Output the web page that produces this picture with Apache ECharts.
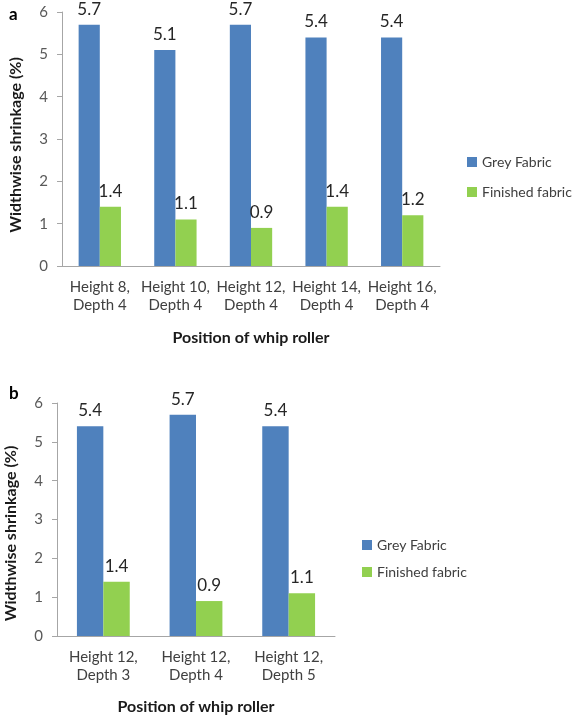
<!DOCTYPE html>
<html><head><meta charset="utf-8">
<script src="https://cdn.jsdelivr.net/npm/echarts@6/dist/echarts.min.js"></script>
<style>html,body{margin:0;padding:0;background:#fff}#c{width:572px;height:717px}</style>
</head><body><div id="c"></div>
<script>
const categoriesA = ['Height 8,\nDepth 4','Height 10,\nDepth 4','Height 12,\nDepth 4','Height 14,\nDepth 4','Height 16,\nDepth 4'];
const greyA = [5.7, 5.1, 5.7, 5.4, 5.4];
const finishedA = [1.4, 1.1, 0.9, 1.4, 1.2];
const categoriesB = ['Height 12,\nDepth 3','Height 12,\nDepth 4','Height 12,\nDepth 5'];
const greyB = [5.4, 5.7, 5.4];
const finishedB = [1.4, 0.9, 1.1];
const seriesNames = ['Grey Fabric', 'Finished fabric'];
const yMin = 0, yMax = 6, yStep = 1;
const panelLabels = ['a', 'b'];
const xTitle = 'Position of whip roller';
const yTitle = 'Widthwise shrinkage (%)';

const FONT = 'Lato, "Open Sans", sans-serif';
const BLUE = '#4F81BD', GREEN = '#92D050';
const AXC = '#A6A6A6', TXT = '#404040';

function xAxis(idx, cats, gap) {
  return {
    type: 'category', gridIndex: idx, data: cats,
    axisLine: {lineStyle: {color: AXC, width: 1}},
    axisTick: {show: false},
    axisLabel: {interval: 0, color: TXT, fontSize: 15, fontFamily: FONT, margin: 12, lineHeight: 18},
    name: xTitle, nameLocation: 'middle', nameGap: gap,
    nameTextStyle: {color: '#1a1a1a', fontSize: 16, fontWeight: 'bold', fontFamily: FONT}
  };
}
function yAxis(idx, shift) {
  return {
    type: 'value', gridIndex: idx, min: yMin, max: yMax, interval: yStep,
    axisLine: {show: true, lineStyle: {color: AXC, width: 1}},
    axisTick: {show: true, length: 5, lineStyle: {color: AXC}},
    splitLine: {show: false},
    axisLabel: {color: '#595959', fontSize: 15, fontFamily: FONT, margin: 14},
    name: yTitle, nameLocation: 'middle', nameRotate: 90, nameGap: 38,
    nameTextStyle: {color: '#1a1a1a', fontSize: 16, fontWeight: 'bold', fontFamily: FONT, padding: [0, shift, 0, 0]}
  };
}
const lbl = {show: true, position: 'top', distance: 7, color: '#262626', fontSize: 17, fontFamily: FONT};
function bars(idx, data, name, color, catGap) {
  return {
    type: 'bar', name: name, xAxisIndex: idx, yAxisIndex: idx, data: data,
    itemStyle: {color: color}, barGap: '0%', barCategoryGap: catGap,
    label: lbl, emphasis: {disabled: true}
  };
}
function legend(left, top, gap) {
  return {orient: 'vertical', left: left, top: top, padding: 0, itemWidth: 10, itemHeight: 10, itemGap: gap,
    data: [{name: seriesNames[0], itemStyle: {color: BLUE}}, {name: seriesNames[1], itemStyle: {color: GREEN}}],
    textStyle: {color: TXT, fontSize: 14, fontFamily: FONT}, icon: 'rect', selectedMode: false};
}
const chart = echarts.init(document.getElementById('c'), null, {renderer: 'canvas'});
chart.setOption({
  animation: false,
  textStyle: {fontFamily: FONT},
  title: [
    {text: panelLabels[0], left: 4, top: 1, textStyle: {fontSize: 17, fontWeight: 'bold', color: '#000', fontFamily: FONT}},
    {text: panelLabels[1], left: 4, top: 380, textStyle: {fontSize: 17, fontWeight: 'bold', color: '#000', fontFamily: FONT}}
  ],
  grid: [
    {left: 58, top: 12, width: 382, height: 254},
    {left: 57, top: 403, width: 278, height: 233}
  ],
  xAxis: [xAxis(0, categoriesA, 64), xAxis(1, categoriesB, 63)],
  yAxis: [yAxis(0, 12), yAxis(1, 28)],
  legend: [legend(467, 155, 16), legend(362, 538, 13)],
  series: [
    bars(0, greyA, seriesNames[0], BLUE, '44%'),
    bars(0, finishedA, seriesNames[1], GREEN, '44%'),
    bars(1, greyB, seriesNames[0], BLUE, '43%'),
    bars(1, finishedB, seriesNames[1], GREEN, '43%')
  ]
});
</script></body></html>
